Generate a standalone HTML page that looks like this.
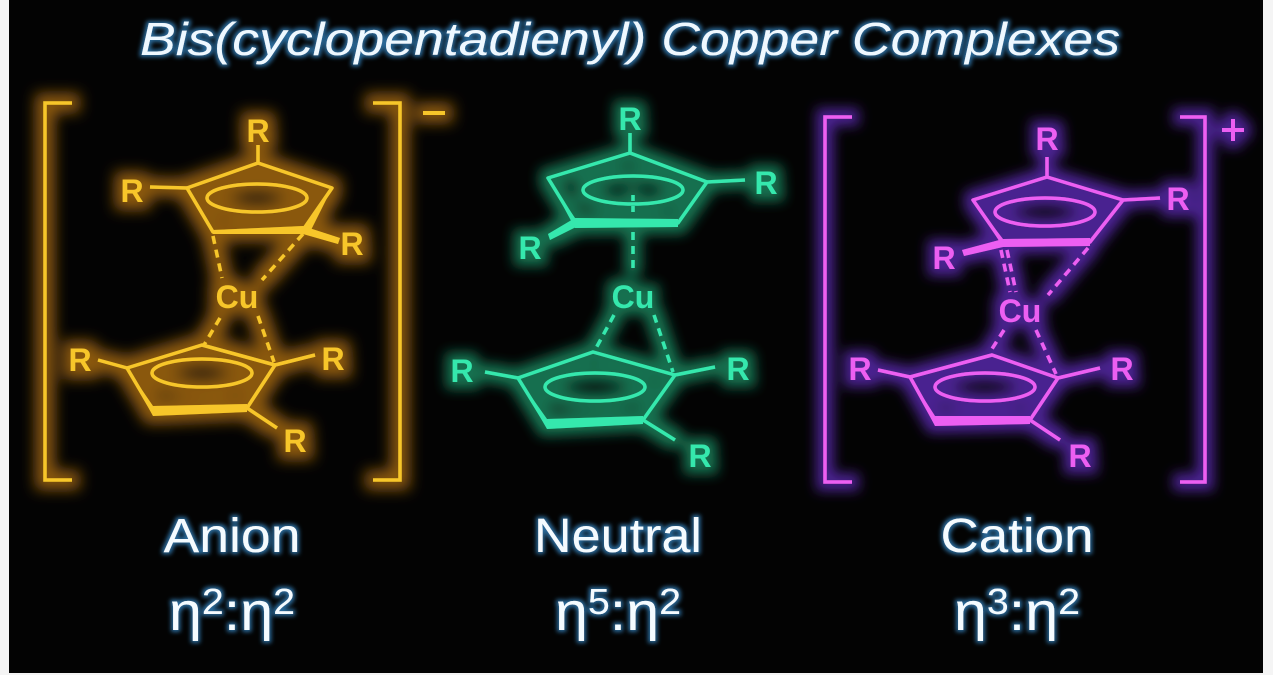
<!DOCTYPE html>
<html><head><meta charset="utf-8"><style>
html,body{margin:0;padding:0;background:#fff;}
svg{display:block;}
</style></head><body>
<svg width="1273" height="675" viewBox="0 0 1273 675" xmlns="http://www.w3.org/2000/svg">
<defs>
<filter id="gO" x="-20%" y="-20%" width="140%" height="140%">
<feMorphology in="SourceAlpha" operator="dilate" radius="8" result="d"/>
<feGaussianBlur in="d" stdDeviation="7" result="b"/>
<feFlood flood-color="#8a5810" flood-opacity="1"/>
<feComposite in2="b" operator="in" result="g"/>
<feMerge><feMergeNode in="g"/><feMergeNode in="SourceGraphic"/></feMerge>
</filter>
<filter id="gG" x="-20%" y="-20%" width="140%" height="140%">
<feMorphology in="SourceAlpha" operator="dilate" radius="7" result="d"/>
<feGaussianBlur in="d" stdDeviation="6" result="b"/>
<feFlood flood-color="#16704f" flood-opacity="1"/>
<feComposite in2="b" operator="in" result="g"/>
<feMerge><feMergeNode in="g"/><feMergeNode in="SourceGraphic"/></feMerge>
</filter>
<filter id="gM" x="-20%" y="-20%" width="140%" height="140%">
<feMorphology in="SourceAlpha" operator="dilate" radius="7" result="d"/>
<feGaussianBlur in="d" stdDeviation="6" result="b"/>
<feFlood flood-color="#4a2290" flood-opacity="1"/>
<feComposite in2="b" operator="in" result="g"/>
<feMerge><feMergeNode in="g"/><feMergeNode in="SourceGraphic"/></feMerge>
</filter>
<filter id="gT" x="-10%" y="-30%" width="120%" height="160%">
<feMorphology in="SourceAlpha" operator="dilate" radius="2" result="d"/>
<feGaussianBlur in="d" stdDeviation="2" result="b"/>
<feFlood flood-color="#2a6a9a"/>
<feComposite in2="b" operator="in" result="g"/>
<feMerge><feMergeNode in="g"/><feMergeNode in="SourceGraphic"/></feMerge>
</filter>
</defs>
<rect x="0" y="0" width="1273" height="675" fill="#f4f4f4"/>
<rect x="9" y="0" width="1254" height="673" fill="#030303"/>

<text x="630" y="55" text-anchor="middle" font-family="Liberation Sans, sans-serif" font-style="italic" font-size="46" fill="#eef8ff" filter="url(#gT)" textLength="980" lengthAdjust="spacingAndGlyphs">Bis(cyclopentadienyl) Copper Complexes</text>

<!-- ANION -->
<g filter="url(#gO)" stroke="#f7c62a" fill="none" stroke-width="3.5" font-family="Liberation Sans, sans-serif" font-weight="bold">
<polyline points="72,103 45,103 45,480 72,480"/>
<polyline points="373,103 400,103 400,480 373,480"/>
<line x1="423" y1="113" x2="445" y2="113" stroke-width="4"/>
<polygon points="258,163 332,188 303,230 213,232 187,188" stroke-linejoin="round"/>
<polygon points="303,228 332,188 310,232" fill="#f7c62a" stroke="none"/>
<polygon points="213,230 303,226 306,234 213,234" fill="#f7c62a" stroke="none"/>
<polygon points="303,226 340,238 338,244 303,234" fill="#f7c62a" stroke="none"/>
<ellipse cx="257" cy="198" rx="50" ry="14"/>
<line x1="258" y1="163" x2="258" y2="145"/>
<line x1="187" y1="188" x2="150" y2="187"/>
<line x1="213" y1="236" x2="222" y2="278" stroke-dasharray="8,6"/>
<line x1="303" y1="234" x2="262" y2="280" stroke-dasharray="8,6"/>
<line x1="220" y1="318" x2="204" y2="345" stroke-dasharray="8,6"/>
<line x1="258" y1="316" x2="274" y2="362" stroke-dasharray="8,6"/>
<polygon points="202,345 275,365 247,408 153,412 127,368" stroke-linejoin="round"/>
<polygon points="127,368 153,406 247,404 247,412 153,416" fill="#f7c62a" stroke="none"/>
<ellipse cx="202" cy="373" rx="50" ry="14"/>
<line x1="127" y1="368" x2="98" y2="360"/>
<line x1="275" y1="365" x2="315" y2="355"/>
<line x1="247" y1="408" x2="277" y2="428"/>
<g fill="#f7c62a" stroke="none" font-size="32" text-anchor="middle">
<text x="258" y="142">R</text>
<text x="132" y="202">R</text>
<text x="352" y="255">R</text>
<text x="237" y="308">Cu</text>
<text x="80" y="371">R</text>
<text x="333" y="370">R</text>
<text x="295" y="452">R</text>
</g>
</g>

<!-- NEUTRAL -->
<g filter="url(#gG)" stroke="#36e8ad" fill="none" stroke-width="3.5" font-family="Liberation Sans, sans-serif" font-weight="bold">
<polygon points="630,153 707,182 678,223 575,222 548,178" stroke-linejoin="round"/>
<polygon points="548,178 575,218 678,219 678,227 575,228" fill="#36e8ad" stroke="none"/>
<polygon points="575,218 548,234 550,240 578,226" fill="#36e8ad" stroke="none"/>
<ellipse cx="633" cy="190" rx="50" ry="14"/>
<line x1="630" y1="153" x2="630" y2="133"/>
<line x1="707" y1="182" x2="745" y2="180"/>
<line x1="633" y1="195" x2="633" y2="212" stroke-dasharray="6,5"/>
<line x1="633" y1="232" x2="633" y2="270" stroke-dasharray="8,6"/>
<line x1="614" y1="315" x2="595" y2="350" stroke-dasharray="8,6"/>
<line x1="654" y1="315" x2="673" y2="372" stroke-dasharray="8,6"/>
<polygon points="593,352 675,375 643,420 547,425 518,378" stroke-linejoin="round"/>
<polygon points="518,378 547,419 643,416 643,424 547,429" fill="#36e8ad" stroke="none"/>
<ellipse cx="595" cy="387" rx="50" ry="14"/>
<line x1="518" y1="378" x2="485" y2="372"/>
<line x1="675" y1="375" x2="715" y2="367"/>
<line x1="643" y1="420" x2="675" y2="440"/>
<g fill="#36e8ad" stroke="none" font-size="32" text-anchor="middle">
<text x="630" y="130">R</text>
<text x="766" y="194">R</text>
<text x="530" y="259">R</text>
<text x="633" y="308">Cu</text>
<text x="462" y="382">R</text>
<text x="738" y="380">R</text>
<text x="700" y="467">R</text>
</g>
</g>

<!-- CATION -->
<g filter="url(#gM)" stroke="#ec5ef2" fill="none" stroke-width="3.5" font-family="Liberation Sans, sans-serif" font-weight="bold">
<polyline points="852,117 825,117 825,482 852,482"/>
<polyline points="1180,117 1205,117 1205,482 1180,482"/>
<line x1="1222" y1="130" x2="1244" y2="130" stroke-width="4"/>
<line x1="1233" y1="119" x2="1233" y2="141" stroke-width="4"/>
<polygon points="1047,177 1123,200 1090,242 1003,243 973,200" stroke-linejoin="round"/>
<polygon points="973,200 1003,239 1090,238 1090,246 1003,247" fill="#ec5ef2" stroke="none"/>
<polygon points="1003,239 962,250 964,256 1003,247" fill="#ec5ef2" stroke="none"/>
<ellipse cx="1045" cy="212" rx="50" ry="14"/>
<line x1="1047" y1="177" x2="1047" y2="157"/>
<line x1="1123" y1="200" x2="1160" y2="198"/>
<line x1="1001" y1="250" x2="1010" y2="292" stroke-dasharray="8,6"/>
<line x1="1007" y1="250" x2="1016" y2="292" stroke-dasharray="8,6"/>
<line x1="1088" y1="248" x2="1048" y2="295" stroke-dasharray="8,6"/>
<line x1="1004" y1="330" x2="990" y2="352" stroke-dasharray="8,6"/>
<line x1="1036" y1="330" x2="1056" y2="374" stroke-dasharray="8,6"/>
<polygon points="992,355 1058,378 1030,420 935,422 910,377" stroke-linejoin="round"/>
<polygon points="910,377 935,416 1030,416 1030,424 935,426" fill="#ec5ef2" stroke="none"/>
<ellipse cx="985" cy="387" rx="50" ry="14"/>
<line x1="910" y1="377" x2="878" y2="370"/>
<line x1="1058" y1="378" x2="1100" y2="368"/>
<line x1="1030" y1="420" x2="1060" y2="440"/>
<g fill="#ec5ef2" stroke="none" font-size="32" text-anchor="middle">
<text x="1047" y="150">R</text>
<text x="1178" y="210">R</text>
<text x="944" y="269">R</text>
<text x="1020" y="322">Cu</text>
<text x="860" y="380">R</text>
<text x="1122" y="380">R</text>
<text x="1080" y="467">R</text>
</g>
</g>

<g font-family="Liberation Sans, sans-serif" fill="#f4fbff" text-anchor="middle" filter="url(#gT)">
<text x="232" y="552" font-size="48" textLength="137" lengthAdjust="spacingAndGlyphs">Anion</text>
<text x="618" y="552" font-size="48" textLength="168" lengthAdjust="spacingAndGlyphs">Neutral</text>
<text x="1017" y="552" font-size="48" textLength="153" lengthAdjust="spacingAndGlyphs">Cation</text>
<text x="232" y="630" font-size="54" textLength="126" lengthAdjust="spacingAndGlyphs">η<tspan font-size="36" dy="-16">2</tspan><tspan dy="16">:η</tspan><tspan font-size="36" dy="-16">2</tspan></text>
<text x="618" y="630" font-size="54" textLength="126" lengthAdjust="spacingAndGlyphs">η<tspan font-size="36" dy="-16">5</tspan><tspan dy="16">:η</tspan><tspan font-size="36" dy="-16">2</tspan></text>
<text x="1017" y="630" font-size="54" textLength="126" lengthAdjust="spacingAndGlyphs">η<tspan font-size="36" dy="-16">3</tspan><tspan dy="16">:η</tspan><tspan font-size="36" dy="-16">2</tspan></text>
</g>
</svg>
</body></html>
